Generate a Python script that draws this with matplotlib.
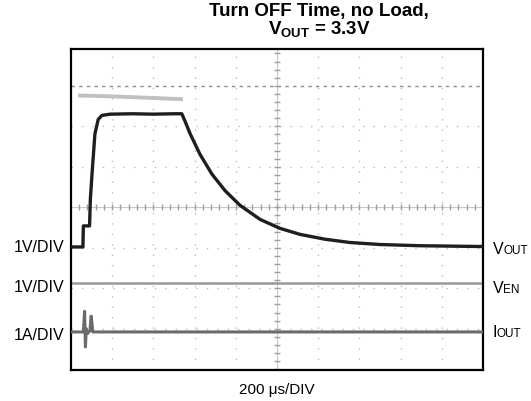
import matplotlib
matplotlib.use('Agg')
import matplotlib.pyplot as plt
import numpy as np

plt.rcParams['font.family'] = ['Liberation Sans', 'DejaVu Sans']
plt.rcParams['mathtext.fontset'] = 'custom'
plt.rcParams['mathtext.rm'] = 'Liberation Sans'
plt.rcParams['mathtext.bf'] = 'Liberation Sans:bold'

# Scope traces, in screen divisions (x: 200 us/div, y: 1 V/div or 1 A/div)
vout_t = [0, 0.29, 0.30, 0.45, 0.47, 0.51, 0.58, 0.66, 0.75, 0.95, 1.5, 2.0, 2.5, 2.69,
          2.77, 2.89, 3.13, 3.42, 3.74, 4.10, 4.59, 5.07, 5.56, 6.17, 6.77, 7.50, 8.47, 10.0]
vout_v = [-0.98, -0.98, -0.46, -0.46, 0.20, 0.82, 1.81, 2.17, 2.27, 2.30, 2.31, 2.30, 2.31, 2.31,
          2.12, 1.82, 1.31, 0.82, 0.41, 0.05, -0.30, -0.52, -0.67, -0.79, -0.87, -0.92, -0.95, -0.97]

ven_hi_t = [0.22, 1.0, 2.0, 2.67]
ven_hi_v = [2.76, 2.74, 2.70, 2.67]
ven_lo_t = [0, 10.0]
ven_lo_v = [-1.88, -1.88]

iout_t = [0, 0.30, 0.33, 0.35, 0.37, 0.40, 0.46, 0.49, 0.53, 0.60, 10.0]
iout_v = [-3.08, -3.08, -2.57, -3.45, -3.00, -3.12, -3.05, -2.69, -3.08, -3.08, -3.08]

left_labels = ['1V/DIV', '1V/DIV', '1A/DIV']
left_y = [248, 288, 335]

W, H = 531, 402
fig = plt.figure(figsize=(W / 100, H / 100), dpi=100)
ax = fig.add_axes([71 / W, (H - 371) / H, 412 / W, 321 / H])
ax.set_xlim(0, 10)
ax.set_ylim(-4.02, 3.91)
ax.set_xticks([])
ax.set_yticks([])
for s in ax.spines.values():
    s.set_linewidth(1.6)
    s.set_color('black')

# graticule
dot = (0, (1, 6.5))
for gx in range(1, 10):
    if gx == 5:
        continue
    ax.axvline(gx, color='#bcbcbc', lw=1, ls=dot, zorder=1)
for gy in range(-3, 3):
    if gy == 0:
        continue
    ax.axhline(gy, color='#bcbcbc', lw=1, ls=dot, zorder=1)
ax.axhline(3, color='#8c8c8c', lw=1, ls=(0, (2.5, 3)), zorder=1)
ax.axvline(5, color='#c8c8c8', lw=0.8, zorder=1)
ax.axhline(0, color='#c8c8c8', lw=0.8, zorder=1)
ticks = np.arange(0.2, 10, 0.2)
ax.plot(ticks, np.zeros_like(ticks), ls='none', marker='|', ms=4, color='#a0a0a0', zorder=1)
yticks = np.arange(-4, 3.9, 0.2)
ax.plot(np.full_like(yticks, 5), yticks, ls='none', marker='_', ms=4, color='#a0a0a0', zorder=1)

# traces
ax.plot(ven_lo_t, ven_lo_v, color='#999999', lw=1.8, zorder=2)
ax.plot(ven_hi_t, ven_hi_v, color='#c0c0c0', lw=2.8, zorder=2)
ax.plot(iout_t, iout_v, color='#6a6a6a', lw=2.2, zorder=3)
ax.plot(vout_t, vout_v, color='#1e1e1e', lw=2.4, zorder=4)

# title (two lines in one text)
fig.text(319 / W, 1 - 3 / H, 'Turn OFF Time, no Load,\n' + r'$\mathbf{V_{OUT}}$ = 3.3V',
         ha='center', va='top', fontsize=13.5, fontweight='bold', linespacing=0.95)

# channel scale labels
for lab, y in zip(left_labels, left_y):
    fig.text(64 / W, 1 - y / H, lab, ha='right', va='center', fontsize=11.5)

# channel names on the right
for main, sub, x0, xs, y in [('V', 'OUT', 493, 503, 248), ('V', 'EN', 493, 503, 287), ('I', 'OUT', 492, 496.5, 331)]:
    fig.text(x0 / W, 1 - (y + 6) / H, main, ha='left', va='baseline', fontsize=11.5)
    fig.text(xs / W, 1 - (y + 6) / H, sub, ha='left', va='baseline', fontsize=8.5)

fig.text(277 / W, 1 - 390 / H, '200 \u03bcs/DIV', ha='center', va='center', fontsize=11)

fig.savefig('out.png', dpi=100)
